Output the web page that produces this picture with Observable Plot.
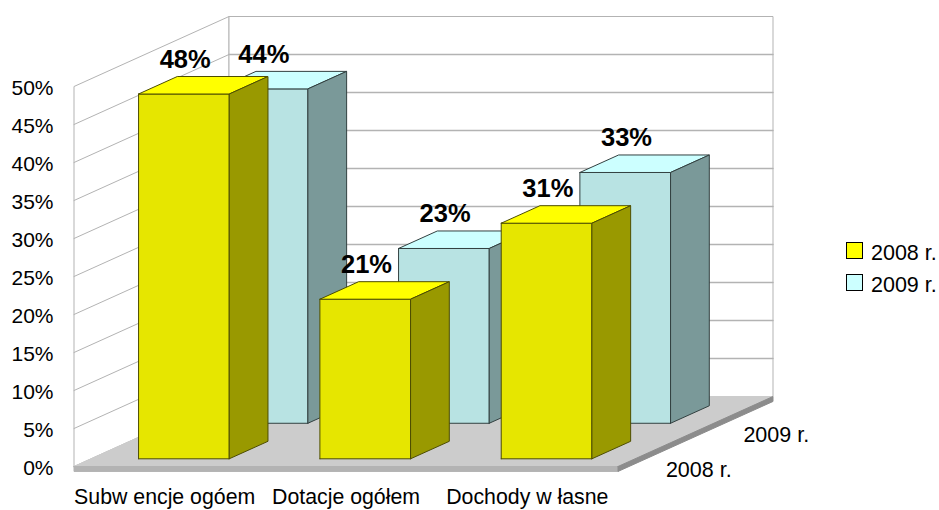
<!DOCTYPE html>
<html>
<head>
<meta charset="utf-8">
<script src="https://cdn.jsdelivr.net/npm/d3@7"></script>
<script src="https://cdn.jsdelivr.net/npm/@observablehq/plot@0.6"></script>
<style>
html,body{margin:0;padding:0;background:#fff;}
#wrap{position:relative;width:939px;height:510px;overflow:hidden;font-family:"Liberation Sans",Arial,sans-serif;}
svg{display:block;}
.lg{position:absolute;left:846px;display:flex;align-items:center;font-size:21.5px;line-height:16px;color:#000;white-space:nowrap;}
.lg i{display:block;width:15px;height:15px;border:1px solid #000;margin-right:8px;}
.lg span{position:relative;top:3px;}
</style>
</head>
<body>
<div id="wrap"></div>
<script>
const categories = ["Subw encje ogóem", "Dotacje ogółem", "Dochody w łasne"];
const values2008 = [48, 21, 31];
const values2009 = [44, 23, 33];
const seriesNames = ["2008 r.", "2009 r."];
const yTicks = [0, 5, 10, 15, 20, 25, 30, 35, 40, 45, 50];
const rowDepths = [0.22, 1.235];
const barInset = 0.262, barWidth = 0.5, barDepth = 0.5;
const palette2008 = {front:"#e6e600", top:"#ffff00", side:"#999900", line:"#4d4d00"};
const palette2009 = {front:"#b8e3e3", top:"#ccffff", side:"#7a9999", line:"#324040"};

const margin = {left:73.5, right:321.5, top:86, bottom:44};
const unitX = (939 - margin.left - margin.right) / 3;  // px per category
const unitY = (510 - margin.top - margin.bottom) / 50; // px per percent
const depthDX = 77.5, depthDY = 35;                    // px per depth row

// oblique projection: (category, percent, depth) -> plane coordinates
const P = (c, v, d) => ({x: c + d * depthDX / unitX, y: v + d * depthDY / unitY});

const faces = [];
let fid = 0;
function face(pts, fill, stroke) {
  const id = fid++;
  const ring = [...pts, pts[0]];
  ring.forEach(([c, v, d]) => faces.push({id, ...P(c, v, d), fill, stroke}));
}

const grid = "#b3b3b3";
const maxD = 2;
// walls
face([[0,0,0],[0,50,0],[0,50,maxD],[0,0,maxD]], "#ffffff", grid);
face([[0,0,maxD],[0,50,maxD],[3,50,maxD],[3,0,maxD]], "#ffffff", grid);
// floor
face([[0,0,0],[3,0,0],[3,0,maxD],[0,0,maxD]], "#cccccc", "#cccccc");
face([[0,0,0],[3,0,0],[3,-0.65,0],[0,-0.65,0]], "#b3b3b3", "#b3b3b3");
face([[3,0,0],[3,0,maxD],[3,-0.65,maxD],[3,-0.65,0]], "#8c8c8c", "#8c8c8c");
const wallFaces = faces.slice();
faces.length = 0;

function bars(values, d0, pal) {
  values.forEach((v, i) => {
    const a = i + barInset, b = a + barWidth, d1 = d0 + barDepth;
    face([[a,0,d0],[b,0,d0],[b,v,d0],[a,v,d0]], pal.front, pal.line);
    face([[a,v,d0],[b,v,d0],[b,v,d1],[a,v,d1]], pal.top, pal.line);
    face([[b,0,d0],[b,0,d1],[b,v,d1],[b,v,d0]], pal.side, pal.line);
  });
}
bars(values2009, rowDepths[1], palette2009);
bars(values2008, rowDepths[0], palette2008);
const barFaces = faces.slice();

const inner = yTicks.filter(t => t > 0 && t < 50);
const leftGrid = inner.flatMap(t => [{...P(0,t,0), t}, {...P(0,t,maxD), t}]);
const backGrid = inner.flatMap(t => [{...P(0,t,maxD), t}, {...P(3,t,maxD), t}]);

const labels = [
  ...values2009.map((v,i) => ({...P(i + barInset + barWidth/2, v, rowDepths[1] + barDepth), t: v + "%"})),
  ...values2008.map((v,i) => ({...P(i + barInset + barWidth/2, v, rowDepths[0] + barDepth), t: v + "%"}))
];
const depthLabels = seriesNames.map((s, i) => ({...P(3, 0, i + 0.5), t: s}));

const polys = (data) => Plot.line(data, {x:"x", y:"y", z:"id", fill:"fill", stroke:"stroke", strokeWidth:1, curve:"linear", strokeLinejoin:"miter"});

const chart = Plot.plot({
  width: 939, height: 510,
  marginLeft: margin.left, marginRight: margin.right, marginTop: margin.top, marginBottom: margin.bottom,
  style: {background:"#fff", fontFamily:'"Liberation Sans", Arial, sans-serif', overflow:"visible"},
  x: {domain:[0,3], range:[margin.left, 939 - margin.right]},
  y: {domain:[0,50], range:[510 - margin.bottom, margin.top]},
  color: {type:"identity"},
  marks: [
    polys(wallFaces),
    Plot.line(leftGrid, {x:"x", y:"y", z:"t", stroke:grid, strokeWidth:1}),
    Plot.line(backGrid, {x:"x", y:"y", z:"t", stroke:grid, strokeWidth:1.4}),
    polys(barFaces),
    Plot.axisY({ticks: yTicks, tickSize:0, tickPadding:20.5, tickFormat:d => d + "%", fontSize:21, label:null, dy:2, fill:"#000"}),
    Plot.axisX({ticks:[0.5,1.5,2.5], tickSize:0, tickPadding:22.5, tickFormat:d => categories[Math.floor(d)], fontSize:21.3, label:null, fill:"#000"}),
    Plot.text(labels, {x:"x", y:"y", text:"t", fontSize:25.5, fontWeight:"bold", fill:"#000", dx:-37.5, dy:-17}),
    Plot.text(depthLabels, {x:"x", y:"y", text:"t", fontSize:21.5, fill:"#000", dx:42, dy:21})
  ]
});
const wrap = document.getElementById("wrap");
wrap.appendChild(chart);
[[palette2008.top, 241.5], [palette2009.top, 273.5]].forEach(([c, top], i) => {
  const el = document.createElement("div");
  el.className = "lg";
  el.style.top = top + "px";
  el.innerHTML = `<i style="background:${c}"></i><span>${seriesNames[i]}</span>`;
  wrap.appendChild(el);
});
</script>
</body>
</html>
